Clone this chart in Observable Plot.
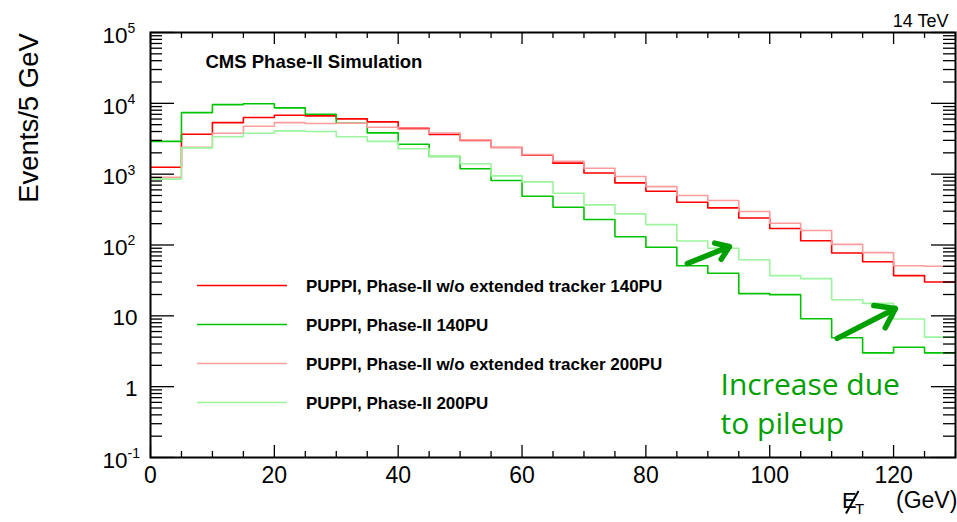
<!DOCTYPE html>
<html>
<head>
<meta charset="utf-8">
<script src="https://cdn.jsdelivr.net/npm/d3@7"></script>
<script src="https://cdn.jsdelivr.net/npm/@observablehq/plot@0.6"></script>
<style>
  body { margin: 0; background: #ffffff; }
  #wrap { position: relative; width: 957px; height: 522px; overflow: hidden; }
  #overlay { position: absolute; left: 0; top: 0; pointer-events: none; }
</style>
</head>
<body>
<div id="wrap"></div>
<script>
// ---------- data ----------
const binLow = [0,5,10,15,20,25,30,35,40,45,50,55,60,65,70,75,80,85,90,95,100,105,110,115,120,125];
const binWidth = 5;

const seriesNames = [
  "PUPPI, Phase-II w/o extended tracker 140PU",
  "PUPPI, Phase-II 140PU",
  "PUPPI, Phase-II w/o extended tracker 200PU",
  "PUPPI, Phase-II 200PU"
];
const seriesColors = ["#ff0000", "#00c400", "#ff9c9c", "#9cf59c"];

const noExt140 = [1250,3660,5350,6300,6790,6650,6040,5480,4450,3650,2990,2380,1850,1430,1040,753,573,401,334,241,171,115,77,58,37,30];
const phase2_140 = [2900,7400,9600,9850,8630,7010,5240,3830,2640,1780,1190,813,488,341,229,131,93,51,40,20.6,19.9,9.1,4.9,3.0,3.6,3.0];
const noExt200 = [900,2400,3790,4750,5350,5190,5240,4600,4300,3800,3050,2400,1890,1520,1210,925,668,499,424,297,203,160,102,78,51,50];
const phase2_200 = [850,2350,3370,3790,4080,4000,3370,2900,2290,1800,1400,946,778,537,368,275,194,114,90,62,37,33.5,16.9,15,9.0,5.0];

const xMajorTicks = [0,20,40,60,80,100,120];
const xTickLabels = ["0","20","40","60","80","100","120"];
const yMajorTicks = [0.1,1,10,100,1000,10000,100000];
const yTickBase = ["10","1","10","10","10","10","10"];
const yTickExp  = ["-1","","","2","3","4","5"];

// annotation arrows (data coordinates)
const arrowStartX = [86.7, 110.9];
const arrowStartY = [54.8, 4.8];
const arrowEndX   = [93.5, 120.3];
const arrowEndY   = [95, 12.7];

// ---------- build ----------
const W = 957, H = 522;
const mL = 150, mR = 2, mT = 32, mB = 65;
const PW = W - mL - mR, PH = H - mT - mB;

const seriesValues = [noExt140, phase2_140, noExt200, phase2_200];
const seriesWidths = [1.6, 1.6, 1.6, 1.6];
const stepData = seriesValues.map((vals, s) => {
  const rows = vals.map((v, i) => ({x: binLow[i], y: v}));
  rows.push({x: binLow[binLow.length - 1] + binWidth, y: vals[vals.length - 1]});
  return rows;
});

const xAll = d3.range(0, 131, 5);
const xMinor = xAll.filter(d => !xMajorTicks.includes(d));
const yMinor = yMajorTicks.slice(0, -1).flatMap(d => d3.range(2, 10).map(k => k * d));

const yLabels = yMajorTicks.map((v, i) => ({v, base: yTickBase[i], exp: yTickExp[i]}));
const arrows = arrowStartX.map((d, i) => ({x1: d, y1: arrowStartY[i], x2: arrowEndX[i], y2: arrowEndY[i]}));

const font = "Liberation Sans, Arial, Helvetica, sans-serif";

const chart = Plot.plot({
  width: W, height: H,
  marginLeft: mL, marginRight: mR, marginTop: mT, marginBottom: mB,
  x: {domain: [0, 130], axis: null},
  y: {type: "log", domain: [0.1, 100000], axis: null},
  style: {fontFamily: font, background: "#ffffff", color: "#000"},
  marks: [
    // histograms
    ...stepData.map((rows, s) => Plot.line(rows, {x: "x", y: "y", curve: "step-after", stroke: seriesColors[s], strokeWidth: seriesWidths[s]})),
    // frame
    Plot.frame({stroke: "#000", strokeWidth: 2}),
    // x ticks bottom and top
    Plot.tickX(xMinor, {x: d => d, insetTop: PH - 6, stroke: "#000", strokeWidth: 1.3}),
    Plot.tickX(xMajorTicks, {x: d => d, insetTop: PH - 12, stroke: "#000", strokeWidth: 1.3}),
    Plot.tickX(xMinor, {x: d => d, insetBottom: PH - 6, stroke: "#000", strokeWidth: 1.3}),
    Plot.tickX(xMajorTicks, {x: d => d, insetBottom: PH - 12, stroke: "#000", strokeWidth: 1.3}),
    // y ticks left and right
    Plot.tickY(yMinor, {y: d => d, insetRight: PW - 12, stroke: "#000", strokeWidth: 1.3}),
    Plot.tickY(yMajorTicks, {y: d => d, insetRight: PW - 24, stroke: "#000", strokeWidth: 1.3}),
    Plot.tickY(yMinor, {y: d => d, insetLeft: PW - 12, stroke: "#000", strokeWidth: 1.3}),
    Plot.tickY(yMajorTicks, {y: d => d, insetLeft: PW - 24, stroke: "#000", strokeWidth: 1.3}),
    // x tick labels
    Plot.text(xMajorTicks.map((v, i) => ({v, t: xTickLabels[i]})), {x: "v", text: "t", frameAnchor: "bottom", dy: 25, lineAnchor: "bottom", textAnchor: "middle", fontSize: 23, fill: "#000"}),
    // y tick labels
    Plot.text(yLabels.filter(d => d.exp === ""), {y: "v", text: "base", frameAnchor: "left", dx: -13, dy: 2, textAnchor: "end", lineAnchor: "middle", fontSize: 22.5, fill: "#000"}),
    Plot.text(yLabels.filter(d => d.exp !== ""), {y: "v", text: "base", frameAnchor: "left", dx: -23, dy: 3, textAnchor: "end", lineAnchor: "middle", fontSize: 22.5, fill: "#000"}),
    Plot.text(yLabels.filter(d => d.exp !== ""), {y: "v", text: "exp", frameAnchor: "left", dx: -23, dy: -4, textAnchor: "start", lineAnchor: "middle", fontSize: 14, fill: "#000"}),
    // y axis title
    Plot.text(["Events/5 GeV"], {frameAnchor: "top-left", dx: -113, dy: 85.5, rotate: -90, textAnchor: "middle", lineAnchor: "bottom", fontSize: 27.5, fill: "#000"}),
    // header texts
    Plot.text(["14 TeV"], {frameAnchor: "top-right", dx: -7, dy: -6, textAnchor: "end", lineAnchor: "bottom", fontSize: 18, fill: "#000"}),
    Plot.text(["CMS Phase-II Simulation"], {frameAnchor: "top-left", dx: 55, dy: 35.5, textAnchor: "start", lineAnchor: "bottom", fontSize: 18.5, fontWeight: "bold", fill: "#000"}),
    // annotation
    Plot.arrow(arrows, {x1: "x1", y1: "y1", x2: "x2", y2: "y2", stroke: "#00a000", strokeWidth: 5.5, headLength: 9, headAngle: 70}),
    Plot.text(["Increase due\nto pileup"], {frameAnchor: "top-left", dx: 570, dy: 401, textAnchor: "start", lineAnchor: "bottom", lineHeight: 1.27, fontSize: 30, fontFamily: "Open Sans", fill: "#00a000"})
  ]
});

const wrap = document.getElementById("wrap");
wrap.appendChild(chart);

// ---------- legend and x-axis title overlay ----------
const ns = "http://www.w3.org/2000/svg";
const ov = document.createElementNS(ns, "svg");
ov.setAttribute("id", "overlay");
ov.setAttribute("width", W);
ov.setAttribute("height", H);
ov.style.fontFamily = font;
wrap.appendChild(ov);

function el(tag, attrs, text) {
  const e = document.createElementNS(ns, tag);
  for (const k in attrs) e.setAttribute(k, attrs[k]);
  if (text != null) e.textContent = text;
  ov.appendChild(e);
  return e;
}

const legY0 = 285.5, legStep = 39;
seriesNames.forEach((name, i) => {
  const y = legY0 + i * legStep;
  el("line", {x1: 197, x2: 287, y1: y, y2: y, stroke: seriesColors[i], "stroke-width": 1.6});
  el("text", {x: 306, y: y + 6.2, "font-size": 17, "font-weight": "bold", fill: "#000"}, name);
});

// x-axis title: E with slash, subscript T, (GeV)
el("text", {x: 842, y: 508, "font-size": 22, fill: "#000"}, "E");
el("line", {x1: 858.5, y1: 491, x2: 846, y2: 513.5, stroke: "#000", "stroke-width": 2});
el("text", {x: 855, y: 513.5, "font-size": 15, fill: "#000"}, "T");
el("text", {x: 896, y: 508, "font-size": 23, fill: "#000"}, "(GeV)");
</script>
</body>
</html>
